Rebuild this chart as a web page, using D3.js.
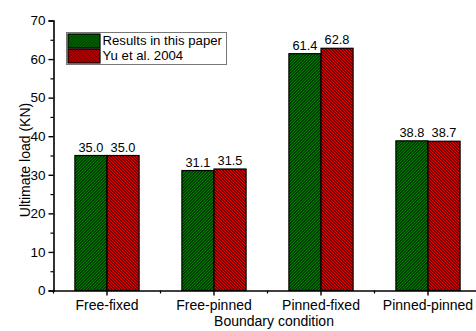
<!DOCTYPE html>
<html>
<head>
<meta charset="utf-8">
<script src="https://cdn.jsdelivr.net/npm/d3@7"></script>
<style>
  html, body { margin: 0; padding: 0; background: #fff; }
  svg { display: block; font-family: Arial, "Liberation Sans", sans-serif; }
</style>
</head>
<body>
<svg id="chart" width="476" height="331"></svg>
<script>
// Boundary conditions and ultimate loads (KN)
const categories = ["Free-fixed", "Free-pinned", "Pinned-fixed", "Pinned-pinned"];
const seriesNames = ["Results in this paper", "Yu et al. 2004"];
const paperValues = [35.0, 31.1, 61.4, 38.8];
const yuValues = [35.0, 31.5, 62.8, 38.7];
const yTicks = [0, 10, 20, 30, 40, 50, 60, 70];
const yMinorTicks = [5, 15, 25, 35, 45, 55, 65];

const seriesValues = [paperValues, yuValues];
const seriesFill = ["#008000", "#f00000"];
// hatch direction: +1 draws "/" lines, -1 draws "\" lines
const seriesHatchDir = [1, -1];
const FONT = "Arial, 'Liberation Sans', sans-serif";

const svg = d3.select("#chart");
const plotLeft = 53.5, plotBottom = 290.5, plotTop = 20.5;
const step = 107;

const x = d3.scaleBand().domain(categories).range([plotLeft, plotLeft + step * categories.length]).padding(0);
const xSeries = d3.scaleBand().domain(seriesNames).range([0.2 * step, 0.8 * step]).padding(0);
const y = d3.scaleLinear().domain([0, 70]).range([plotBottom, plotTop]);

// pixel-aligned diagonal hatch fills (3px tile)
const tile = 3;
const defs = svg.append("defs");
seriesNames.forEach((name, i) => {
  const p = defs.append("pattern")
    .attr("id", "hatch" + i)
    .attr("patternUnits", "userSpaceOnUse")
    .attr("width", tile).attr("height", tile);
  p.append("rect").attr("width", tile).attr("height", tile).attr("fill", seriesFill[i]);
  d3.range(tile).forEach(k => {
    p.append("rect")
      .attr("x", k)
      .attr("y", seriesHatchDir[i] > 0 ? tile - 1 - k : k)
      .attr("width", 1).attr("height", 1)
      .attr("fill", "#000");
  });
});

// bars
const groups = svg.append("g").selectAll("g")
  .data(categories)
  .join("g")
  .attr("transform", d => `translate(${x(d)},0)`);

seriesNames.forEach((name, si) => {
  groups.append("rect")
    .attr("x", () => xSeries(name))
    .attr("y", (d, ci) => y(seriesValues[si][ci]))
    .attr("width", xSeries.bandwidth())
    .attr("height", (d, ci) => y(0) - y(seriesValues[si][ci]))
    .attr("fill", `url(#hatch${si})`)
    .attr("stroke", "#000")
    .attr("stroke-width", 1.2);
  groups.append("text")
    .attr("x", () => xSeries(name) + xSeries.bandwidth() / 2)
    .attr("y", (d, ci) => y(seriesValues[si][ci]) - 4)
    .attr("text-anchor", "middle")
    .attr("font-size", 12.8)
    .attr("fill", "#000")
    .text((d, ci) => seriesValues[si][ci].toFixed(1));
});

// y axis
const yAxis = svg.append("g").attr("transform", `translate(${plotLeft},0)`)
  .call(d3.axisLeft(y).tickValues(yTicks).tickSize(5).tickPadding(3).tickFormat(d3.format("d")));
yAxis.attr("font-family", FONT).attr("font-size", 13.5);
yAxis.selectAll(".tick text").attr("fill", "#000");
yAxis.select(".domain").attr("stroke-width", 1.6);
yAxis.selectAll(".tick line").attr("stroke-width", 1.4);
svg.append("g").attr("transform", `translate(${plotLeft},0)`)
  .call(d3.axisLeft(y).tickValues(yMinorTicks).tickSize(3).tickFormat(""))
  .call(g => g.select(".domain").remove())
  .selectAll(".tick line").attr("stroke-width", 1.2);

// x axis
const xAxis = svg.append("g").attr("transform", `translate(0,${plotBottom})`)
  .call(d3.axisBottom(x).tickSize(5).tickSizeOuter(0).tickPadding(5));
xAxis.attr("font-family", FONT).attr("font-size", 14);
xAxis.selectAll(".tick text").attr("fill", "#000");
xAxis.select(".domain").attr("stroke-width", 1.6);
xAxis.selectAll(".tick line").attr("stroke-width", 1.4);
svg.append("g").attr("transform", `translate(0,${plotBottom})`)
  .selectAll("line")
  .data(categories)
  .join("line")
  .attr("x1", d => x(d)).attr("x2", d => x(d))
  .attr("y1", 0).attr("y2", 3)
  .attr("stroke", "#000").attr("stroke-width", 1.2);

// axis titles
svg.append("text")
  .attr("transform", `translate(30,160) rotate(-90)`)
  .attr("text-anchor", "middle")
  .attr("font-size", 14)
  .text("Ultimate load (KN)");
svg.append("text")
  .attr("x", 274).attr("y", 326)
  .attr("text-anchor", "middle")
  .attr("font-size", 14)
  .text("Boundary condition");

// legend
const legend = svg.append("g").attr("transform", "translate(66.5,32.5)");
legend.append("rect").attr("width", 160).attr("height", 32)
  .attr("fill", "#fff").attr("stroke", "#777").attr("stroke-width", 1);
seriesNames.forEach((name, i) => {
  legend.append("rect")
    .attr("x", 1.5).attr("y", 1.5 + i * 15)
    .attr("width", 32).attr("height", 14)
    .attr("fill", `url(#hatch${i})`)
    .attr("stroke", "#000").attr("stroke-width", 1.2);
  legend.append("text")
    .attr("x", 36).attr("y", 12.8 + i * 15)
    .attr("font-size", 13.2)
    .text(name);
});
</script>
</body>
</html>
